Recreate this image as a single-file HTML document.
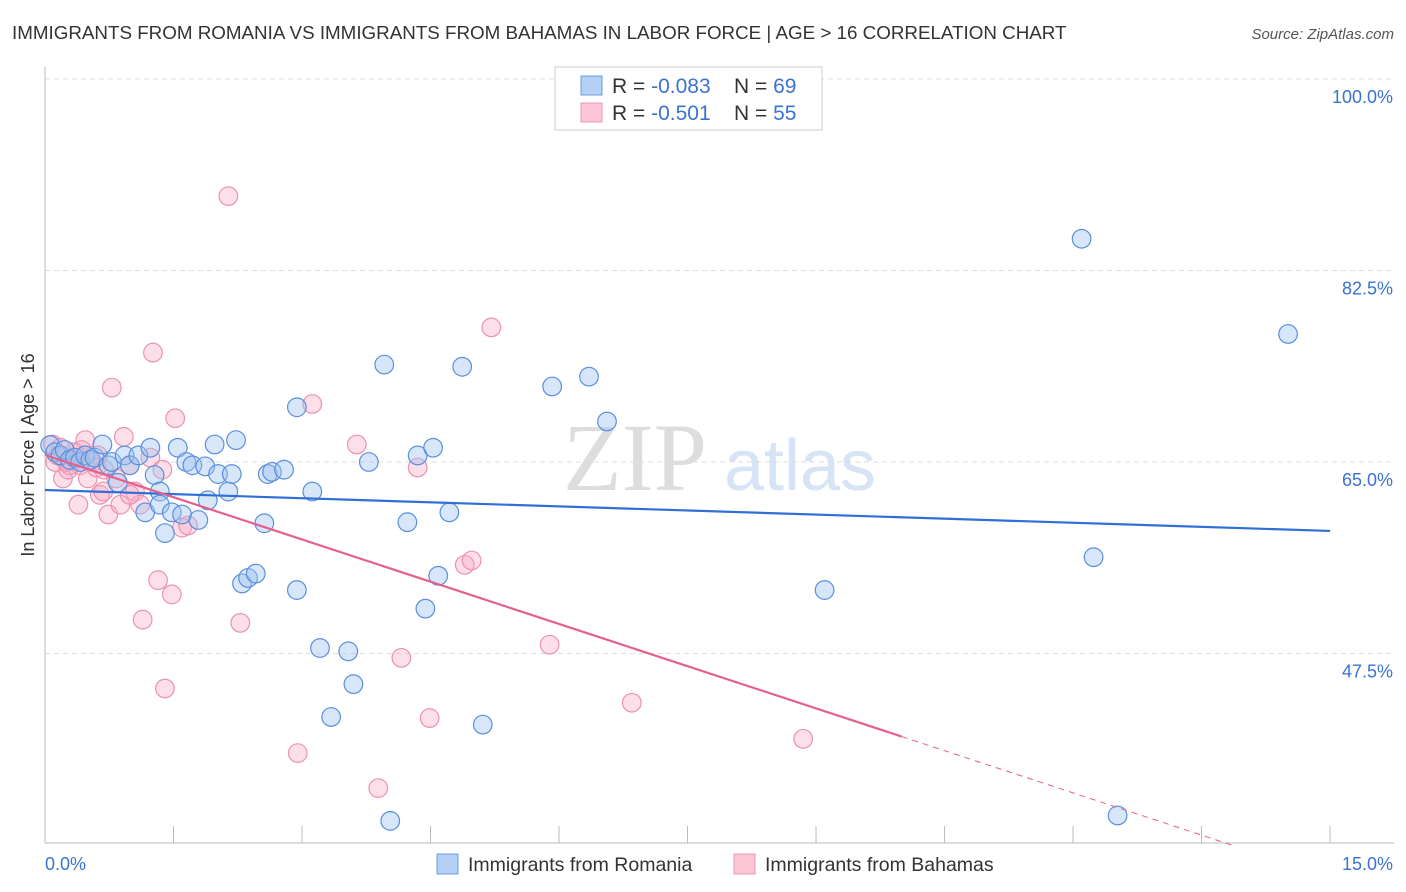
<!DOCTYPE html>
<html><head><meta charset="utf-8"><style>
body{margin:0;background:#fff;font-family:"Liberation Sans",sans-serif}
svg{display:block}
</style></head><body>
<svg id="chart" width="1406" height="892" xmlns="http://www.w3.org/2000/svg">
<text x="12" y="39" font-size="18.8" fill="#333">IMMIGRANTS FROM ROMANIA VS IMMIGRANTS FROM BAHAMAS IN LABOR FORCE | AGE &gt; 16 CORRELATION CHART</text>
<text x="1394" y="39" font-size="15" fill="#555" font-style="italic" text-anchor="end">Source: ZipAtlas.com</text>
<text x="635" y="490" font-size="96" fill="#ddd" font-family="Liberation Serif,serif" text-anchor="middle">ZIP</text>
<text x="800" y="490" font-size="72" fill="#d6e4f5" text-anchor="middle">atlas</text>
<g id="grid"></g>
<g id="axes"></g>
<g id="marks"></g>
<g>
<rect x="555" y="67" width="267" height="63" fill="#fff" stroke="#ccc"/>
<rect x="581" y="76" width="21" height="19" fill="#b5d0f5" stroke="#6a9ee0"/>
<rect x="581" y="103" width="21" height="19" fill="#fcc6d6" stroke="#ee97b2"/>
<text x="612" y="93" font-size="21" fill="#333">R = <tspan fill="#3b73d1">-0.083</tspan></text>
<text x="734" y="93" font-size="21" fill="#333">N = <tspan fill="#3b73d1">69</tspan></text>
<text x="612" y="120" font-size="21" fill="#333">R = <tspan fill="#3b73d1"> -0.501</tspan></text>
<text x="734" y="120" font-size="21" fill="#333">N = <tspan fill="#3b73d1">55</tspan></text>
</g>
<g>
<rect x="437" y="854" width="21" height="20" fill="#b5d0f5" stroke="#6a9ee0"/>
<text x="468" y="871" font-size="19.5" fill="#333">Immigrants from Romania</text>
<rect x="734" y="854" width="21" height="20" fill="#fcc6d6" stroke="#ee97b2"/>
<text x="765" y="871" font-size="19.5" fill="#333">Immigrants from Bahamas</text>
</g>
<text transform="translate(34,455) rotate(-90)" font-size="18" fill="#333" text-anchor="middle">In Labor Force | Age &gt; 16</text>
</svg>
<script>
const yTicks=[100,82.5,65,47.5];
const yTickLabels=["100.0%","82.5%","65.0%","47.5%"];
const xTicks=[0,1.5,3,4.5,6,7.5,9,10.5,12,13.5,15];
const romaniaX=[.06,.12,.18,.23,.29,.35,.41,.47,.53,.58,.67,.74,.78,.85,.93,.99,1.09,1.17,1.23,1.28,1.34,1.34,1.40,1.48,1.55,1.60,1.65,1.72,1.79,1.87,1.90,1.98,2.02,2.14,2.18,2.23,2.30,2.37,2.46,2.56,2.60,2.65,2.79,2.94,2.94,3.12,3.21,3.34,3.54,3.60,3.78,3.96,4.03,4.23,4.35,4.44,4.53,4.59,4.72,4.87,5.11,5.92,6.35,6.56,9.10,12.10,12.24,12.52,14.51];
const romaniaY=[66.55,65.9,65.6,66.1,65.2,65.4,65.0,65.6,65.2,65.4,66.6,64.7,65.0,63.1,65.6,64.7,65.6,60.4,66.3,63.8,62.3,61.1,58.5,60.4,66.3,60.2,65.0,64.7,59.7,64.6,61.5,66.6,63.9,62.3,63.9,67.0,53.9,54.4,54.8,59.4,63.9,64.1,64.3,53.3,70.0,62.3,48.0,41.7,47.7,44.7,65.0,73.9,32.2,59.5,65.6,51.6,66.3,54.6,60.4,73.7,41.0,71.9,72.8,68.7,53.3,85.4,56.3,32.7,76.7];
const bahamasX=[.09,.12,.18,.21,.27,.32,.39,.41,.47,.50,.55,.64,.68,.74,.78,.88,.92,.99,1.05,1.11,1.14,1.23,1.26,1.32,1.37,1.40,1.48,1.52,1.60,1.67,2.14,2.28,2.95,3.12,3.64,3.89,4.16,4.35,4.49,4.90,4.98,5.21,5.89,6.85,8.85,.15,.25,.34,.43,.60,.69,.83,.99,.62,.29];
const bahamasY=[66.6,65.0,66.3,63.5,64.3,65.4,61.1,64.7,67.0,63.5,65.0,62.0,62.3,60.2,71.8,61.1,67.3,64.7,62.3,61.1,50.6,65.4,75.0,54.2,64.3,44.3,52.9,69.0,59.0,59.2,89.3,50.3,38.4,70.3,66.6,35.2,47.1,64.5,41.6,55.6,56.0,77.3,48.3,43.0,39.7,65.6,65.0,65.9,66.1,64.5,64.3,63.5,62.0,65.6,64.7];
const romaniaTrend=[62.44,58.70];
const bahamasTrend=[65.64,-2.573];
const bahamasSolidEnd=10.0;
const NS="http://www.w3.org/2000/svg";
const X=v=>45+v*85.67, Y=v=>79+(100-v)*10.943;
function mk(t,a,p){const e=document.createElementNS(NS,t);for(const k in a)e.setAttribute(k,a[k]);p.appendChild(e);return e;}
const grid=document.getElementById('grid'),axes=document.getElementById('axes'),marks=document.getElementById('marks');
yTicks.forEach((t,i)=>{
 const l=mk('line',{x1:45,x2:1394,y1:Y(t),y2:Y(t),stroke:'#ddd','stroke-dasharray':'5,4'},grid);
 
 
 const tx=mk('text',{x:1393,y:Y(t)+24,'font-size':18,fill:'#3b73d1','text-anchor':'end'},axes);
 tx.textContent=yTickLabels[i];
 
 
});
const ax=mk('line',{x1:45,x2:45,y1:67,y2:843,stroke:'#bbb'},axes);


const bx=mk('line',{x1:45,x2:1394,y1:843,y2:843,stroke:'#bbb'},axes);


xTicks.forEach(t=>{
 const l=mk('line',{x1:X(t),x2:X(t),y1:826,y2:843,stroke:'#bbb'},axes);
 
 
});
const xl0=mk('text',{x:45,y:870,'font-size':18,fill:'#3b73d1'},axes);xl0.textContent='0.0%';


const xl1=mk('text',{x:1393,y:870,'font-size':18,fill:'#3b73d1','text-anchor':'end'},axes);xl1.textContent='15.0%';


bahamasX.forEach((x,i)=>{
 const c=mk('circle',{cx:X(x),cy:Y(bahamasY[i]),r:9.3,fill:'rgba(247,170,196,0.38)',stroke:'#ec92b0','stroke-width':1.2},marks);
 
 
});
romaniaX.forEach((x,i)=>{
 const c=mk('circle',{cx:X(x),cy:Y(romaniaY[i]),r:9.3,fill:'rgba(160,195,240,0.42)',stroke:'#5b8fdc','stroke-width':1.2},marks);
 
 
});
const rl=mk('line',{x1:X(0),y1:Y(romaniaTrend[0]),x2:X(15),y2:Y(romaniaTrend[1]),stroke:'#2f6fd6','stroke-width':2.2},marks);


const bf=x=>bahamasTrend[0]+bahamasTrend[1]*x;
const bl=mk('line',{x1:X(0),y1:Y(bf(0)),x2:X(bahamasSolidEnd),y2:Y(bf(bahamasSolidEnd)),stroke:'#e5608c','stroke-width':2.2},marks);


const xe=(30.0-bahamasTrend[0])/bahamasTrend[1];
const bd=mk('line',{x1:X(bahamasSolidEnd),y1:Y(bf(bahamasSolidEnd)),x2:X(xe),y2:Y(bf(xe)),stroke:'#e5608c','stroke-width':1,'stroke-dasharray':'6,5'},marks);


</script>
</body></html>
